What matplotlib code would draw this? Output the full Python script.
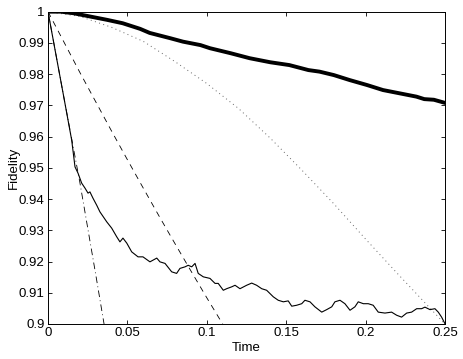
import matplotlib
matplotlib.use("Agg")
import matplotlib.pyplot as plt

plt.rcParams['font.family'] = ['Liberation Sans', 'DejaVu Sans']

# thick solid curve
thick_t = [0, 0.008, 0.016, 0.026, 0.037, 0.047, 0.058, 0.064, 0.077, 0.085, 0.096,
           0.102, 0.115, 0.127, 0.140, 0.152, 0.164, 0.171, 0.180, 0.190, 0.201,
           0.211, 0.222, 0.232, 0.237, 0.243, 0.25]
thick_f = [1.0, 1.0, 0.9995, 0.9985, 0.9974, 0.9963, 0.9945, 0.9932, 0.9915, 0.9904, 0.9893,
           0.9883, 0.9867, 0.9851, 0.9838, 0.9829, 0.9813, 0.9808, 0.9797, 0.9781, 0.9765,
           0.9749, 0.9738, 0.9728, 0.9720, 0.9718, 0.9708]

# dotted curve
dot_t = [0, 0.02, 0.04, 0.06, 0.08, 0.10, 0.12, 0.14, 0.16, 0.18, 0.20, 0.22, 0.25]
dot_f = [1.0, 0.9985, 0.9950, 0.9905, 0.9840, 0.9770, 0.9690, 0.9595, 0.9492, 0.9385,
         0.9272, 0.9162, 0.9000]

# dashed curve
dash_t = [0, 0.01, 0.02, 0.03, 0.04, 0.05, 0.06, 0.07, 0.08, 0.09, 0.10, 0.11, 0.12]
dash_f = [1.0, 0.9903, 0.9806, 0.9712, 0.9618, 0.9526, 0.9435, 0.9345, 0.9257, 0.9170,
          0.9084, 0.9000, 0.8917]

# dash-dot curve
dd_t = [0, 0.01, 0.02, 0.03, 0.0353, 0.04]
dd_f = [1.0, 0.9725, 0.9455, 0.9160, 0.9000, 0.8860]

# thin noisy curve
noisy_t = [0, 0.005, 0.01, 0.0149, 0.0170, 0.0189, 0.0212, 0.0233, 0.0252, 0.0264, 0.0283,
           0.0307, 0.0327, 0.0370, 0.0401, 0.0433, 0.0453, 0.0472, 0.0496, 0.0527, 0.0567,
           0.0598, 0.0642, 0.0685, 0.0705, 0.0737, 0.0779, 0.0810, 0.0831, 0.0863, 0.0883,
           0.0905, 0.0926, 0.0946, 0.0978, 0.1020, 0.1052, 0.1072, 0.1104, 0.1125, 0.1157,
           0.1178, 0.1209, 0.1251, 0.1283, 0.1314, 0.1346, 0.1377, 0.1419, 0.1450, 0.1482,
           0.1513, 0.1535, 0.1566, 0.1598, 0.1618, 0.1650, 0.1681, 0.1724, 0.1755, 0.1787,
           0.1807, 0.1839, 0.1870, 0.1902, 0.1933, 0.1954, 0.1986, 0.2017, 0.2048, 0.2080,
           0.2122, 0.2164, 0.2196, 0.2227, 0.2259, 0.2290, 0.2322, 0.2353, 0.2374, 0.2406,
           0.2437, 0.2458, 0.2479, 0.2500]
noisy_f = [1.0, 0.9862, 0.9725, 0.9589, 0.9503, 0.9483, 0.9451, 0.9435, 0.9419, 0.9423, 0.9403,
           0.9380, 0.9359, 0.9327, 0.9307, 0.9279, 0.9263, 0.9275, 0.9259, 0.9231, 0.9215,
           0.9215, 0.9199, 0.9211, 0.9199, 0.9194, 0.9167, 0.9162, 0.9178, 0.9183, 0.9188,
           0.9183, 0.9194, 0.9162, 0.9151, 0.9146, 0.9130, 0.9130, 0.9108, 0.9113, 0.9119,
           0.9124, 0.9113, 0.9124, 0.9131, 0.9124, 0.9113, 0.9108, 0.9087, 0.9076, 0.9071,
           0.9074, 0.9057, 0.9060, 0.9065, 0.9076, 0.9071, 0.9055, 0.9038, 0.9046, 0.9055,
           0.9071, 0.9076, 0.9065, 0.9044, 0.9055, 0.9071, 0.9065, 0.9065, 0.9060, 0.9038,
           0.9035, 0.9038, 0.9028, 0.9022, 0.9035, 0.9038, 0.9049, 0.9049, 0.9054, 0.9046,
           0.9049, 0.9038, 0.9022, 0.9001]

x_ticks = [0, 0.05, 0.1, 0.15, 0.2, 0.25]
x_labels = ["0", "0.05", "0.1", "0.15", "0.2", "0.25"]
y_ticks = [0.9, 0.91, 0.92, 0.93, 0.94, 0.95, 0.96, 0.97, 0.98, 0.99, 1.0]
y_labels = ["0.9", "0.91", "0.92", "0.93", "0.94", "0.95", "0.96", "0.97", "0.98", "0.99", "1"]

fig = plt.figure(figsize=(4.63, 3.59), dpi=100)
ax = fig.add_axes([0.1037, 0.0975, 0.8573, 0.8700])

ax.plot(dot_t, dot_f, color='0.4', lw=0.7, linestyle=(0, (1, 3.5)))
ax.plot(dash_t, dash_f, color='black', lw=0.6, linestyle=(0, (7, 6)))
ax.plot(dd_t, dd_f, color='black', lw=0.6, linestyle=(0, (8, 4, 1, 4)))
ax.plot(noisy_t, noisy_f, color='black', lw=0.8)
ax.plot(thick_t, thick_f, color='black', lw=2.8)

ax.set_xlim(0, 0.25)
ax.set_ylim(0.9, 1.0)
ax.set_xticks(x_ticks)
ax.set_xticklabels(x_labels)
ax.set_yticks(y_ticks)
ax.set_yticklabels(y_labels)
ax.tick_params(direction='in', length=3, width=0.6, top=True, right=True,
               labelsize=9.5, pad=2.5)
for s in ax.spines.values():
    s.set_linewidth(0.7)

ax.set_xlabel("Time", fontsize=9.5, labelpad=2)
ax.set_ylabel("Fidelity", fontsize=9.5, labelpad=-1)

fig.savefig("out.png", dpi=100)
